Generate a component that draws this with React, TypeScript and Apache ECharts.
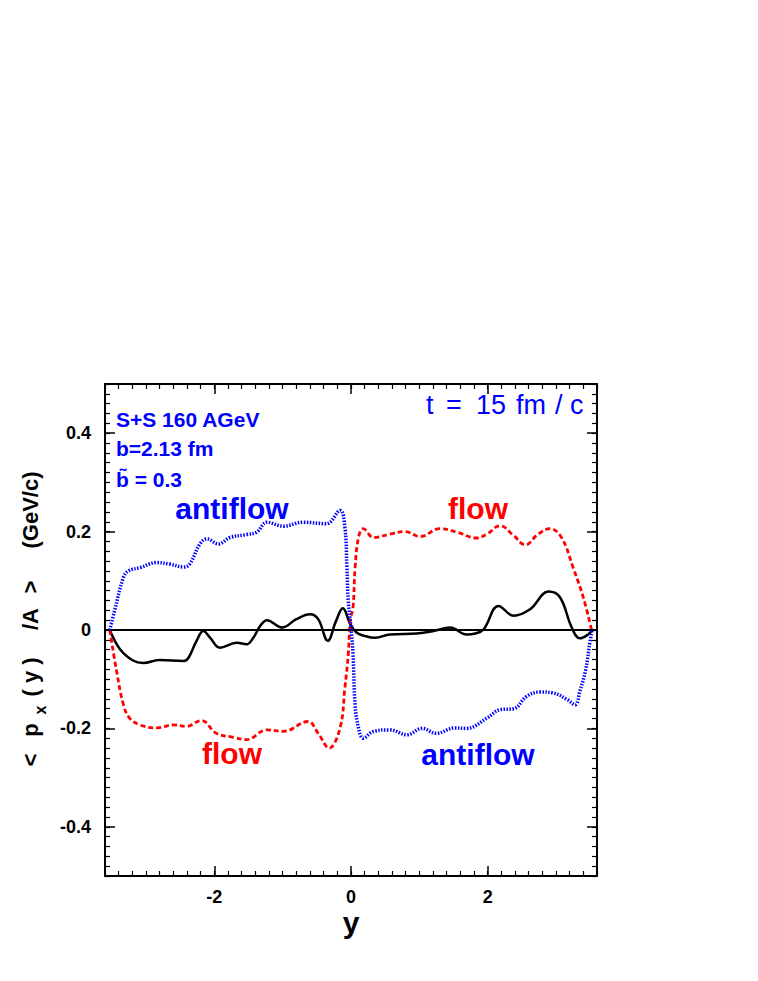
import React, { useEffect, useRef } from "react";
import * as echarts from "echarts";

// Axis ranges
const X_MIN = -3.6;
const X_MAX = 3.6;
const Y_MIN = -0.5;
const Y_MAX = 0.5;

// Black solid curve (net)
const blackX = [-3.53, -3.38, -3.19, -3.04, -2.8, -2.45, -2.38, -2.26, -2.16, -2.06, -1.92, -1.67, -1.53, -1.43, -1.33, -1.23, -1.01, -0.8, -0.6, -0.48, -0.34, -0.22, -0.12, -0.01, 0.08, 0.2, 0.35, 0.57, 0.96, 1.21, 1.45, 1.69, 1.82, 1.94, 2.16, 2.38, 2.62, 2.89, 3.06, 3.23, 3.35, 3.47, 3.53];
const blackY = [0, -0.039, -0.062, -0.067, -0.061, -0.063, -0.057, -0.022, -0.002, -0.016, -0.036, -0.026, -0.029, -0.016, 0.008, 0.02, 0.005, 0.022, 0.032, 0.022, -0.022, 0.018, 0.044, 0.012, -0.005, -0.012, -0.016, -0.009, -0.007, -0.002, 0.005, -0.009, -0.007, 0.001, 0.049, 0.029, 0.042, 0.078, 0.066, 0.005, -0.017, -0.009, 0];

// Red dashed curve (flow)
const redX = [-3.53, -3.43, -3.33, -3.24, -3.09, -2.84, -2.6, -2.41, -2.19, -1.97, -1.72, -1.53, -1.23, -0.99, -0.63, -0.48, -0.32, -0.16, -0.09, -0.04, -0.01, 0.03, 0.06, 0.11, 0.18, 0.33, 0.57, 0.79, 1.01, 1.3, 1.55, 1.84, 1.99, 2.18, 2.38, 2.55, 2.74, 2.91, 3.08, 3.25, 3.4, 3.52];
const redY = [0, -0.084, -0.152, -0.179, -0.193, -0.199, -0.193, -0.196, -0.184, -0.21, -0.218, -0.223, -0.203, -0.206, -0.186, -0.21, -0.24, -0.199, -0.118, -0.05, 0.02, 0.046, 0.127, 0.188, 0.206, 0.188, 0.195, 0.2, 0.19, 0.206, 0.199, 0.187, 0.195, 0.212, 0.192, 0.173, 0.195, 0.206, 0.188, 0.127, 0.066, 0];

// Blue dotted curve (antiflow)
const blueX = [-3.53, -3.46, -3.33, -3.26, -3.08, -2.85, -2.65, -2.45, -2.36, -2.21, -2.11, -1.94, -1.77, -1.53, -1.38, -1.23, -0.99, -0.7, -0.36, -0.16, -0.09, -0.06, -0.04, 0.0, 0.03, 0.06, 0.11, 0.18, 0.33, 0.57, 0.82, 1.04, 1.25, 1.52, 1.69, 1.99, 2.18, 2.38, 2.57, 2.77, 2.96, 3.16, 3.28, 3.35, 3.43, 3.5, 3.53];
const blueY = [0, 0.039, 0.107, 0.12, 0.127, 0.137, 0.134, 0.128, 0.134, 0.175, 0.185, 0.175, 0.188, 0.194, 0.199, 0.219, 0.211, 0.219, 0.216, 0.243, 0.209, 0.127, 0.059, 0.005, -0.05, -0.152, -0.199, -0.22, -0.206, -0.203, -0.213, -0.2, -0.21, -0.199, -0.2, -0.179, -0.162, -0.16, -0.135, -0.126, -0.128, -0.141, -0.152, -0.124, -0.084, -0.022, 0];

const FONT = "'Liberation Sans', Arial, Helvetica, sans-serif";
const BLUE = "#0000ff";
const RED = "#ff0000";

const pairs = (xs: number[], ys: number[]) => xs.map((x, i) => [x, ys[i]]);

const majorX = (pos: string, labels: boolean) => ({
  type: "value",
  position: pos,
  min: X_MIN,
  max: X_MAX,
  splitNumber: 4,
  axisLine: { show: true, onZero: false, lineStyle: { color: "#000", width: 2 } },
  axisTick: { show: true, inside: true, length: 10, lineStyle: { color: "#000", width: 1.5 } },
  axisLabel: {
    show: labels, margin: 12, color: "#000", fontSize: 18, fontWeight: "bold", fontFamily: FONT,
    showMinLabel: false, showMaxLabel: false,
  },
  splitLine: { show: false },
});
const minorX = (pos: string) => ({
  type: "value",
  position: pos,
  min: X_MIN,
  max: X_MAX,
  interval: 0.2,
  axisLine: { show: false, onZero: false },
  axisTick: { show: true, inside: true, length: 5, lineStyle: { color: "#000", width: 1.2 } },
  axisLabel: { show: false },
  splitLine: { show: false },
});
const majorY = (pos: string, labels: boolean) => ({
  type: "value",
  position: pos,
  min: Y_MIN,
  max: Y_MAX,
  splitNumber: 5,
  axisLine: { show: true, onZero: false, lineStyle: { color: "#000", width: 2 } },
  axisTick: { show: true, inside: true, length: 10, lineStyle: { color: "#000", width: 1.5 } },
  axisLabel: {
    show: labels, margin: 14, color: "#000", fontSize: 18, fontWeight: "bold", fontFamily: FONT,
    showMinLabel: false, showMaxLabel: false,
  },
  splitLine: { show: false },
});
const minorY = (pos: string) => ({
  type: "value",
  position: pos,
  min: Y_MIN,
  max: Y_MAX,
  interval: 0.02,
  axisLine: { show: false, onZero: false },
  axisTick: { show: true, inside: true, length: 5, lineStyle: { color: "#000", width: 1.2 } },
  axisLabel: { show: false },
  splitLine: { show: false },
});

const txt = (text: string, x: number, y: number, size: number, color: string, opts: any = {}) => ({
  type: "text",
  x,
  y,
  z: 100,
  style: {
    text,
    fill: color,
    font: `${opts.weight || "bold"} ${size}px ${FONT}`,
    align: opts.align || "center",
    verticalAlign: "middle",
  },
});

export default function App() {
  const ref = useRef<HTMLDivElement>(null);
  useEffect(() => {
    const chart = echarts.init(ref.current!, null, { renderer: "svg" });
    // y-axis title: group rotated 90° CCW, local x runs upward from the bottom of the label
    const yTitle = {
      type: "group",
      x: 30,
      y: 767,
      rotation: Math.PI / 2,
      children: [
        txt("<", 7, 0, 22, "#000"),
        txt("p", 37, 0, 22, "#000"),
        txt("x", 57, 10, 16, "#000"),
        txt("( y )", 90, 0, 22, "#000"),
        txt("/A", 148, 0, 22, "#000"),
        txt(">", 180, 0, 22, "#000"),
        txt("(GeV/c)", 257, 0, 22, "#000"),
      ],
    };
    const option: any = {
      animation: false,
      backgroundColor: "#fff",
      grid: { left: 105, top: 384, right: 161, bottom: 105, containLabel: false },
      xAxis: [majorX("bottom", true), minorX("bottom"), majorX("top", false), minorX("top")],
      yAxis: [majorY("left", true), minorY("left"), majorY("right", false), minorY("right")],
      series: [
        {
          type: "line", xAxisIndex: 0, yAxisIndex: 0, data: pairs(blackX, blackY), smooth: 0.4,
          symbol: "none", lineStyle: { color: "#000", width: 2.5 }, z: 3,
          markLine: {
            silent: true, symbol: "none", label: { show: false },
            lineStyle: { color: "#000", width: 2, type: "solid" },
            data: [{ yAxis: 0 }],
          },
        },
        {
          type: "line", xAxisIndex: 0, yAxisIndex: 0, data: pairs(redX, redY), smooth: 0.4,
          symbol: "none", lineStyle: { color: RED, width: 2.8, type: [5, 3] }, z: 4,
        },
        {
          type: "line", xAxisIndex: 0, yAxisIndex: 0, data: pairs(blueX, blueY), smooth: 0.4,
          symbol: "none", lineStyle: { color: BLUE, width: 3.5, type: [1.5, 1.5] }, z: 5,
        },
      ],
      graphic: [
        txt("S+S 160 AGeV", 116, 419, 21, BLUE, { align: "left" }),
        txt("b=2.13 fm", 116, 448, 21, BLUE, { align: "left" }),
        txt("b\u0303 = 0.3", 116, 479, 21, BLUE, { align: "left" }),
        txt("t", 426, 405, 27, BLUE, { align: "left", weight: "normal" }),
        txt("=", 446, 405, 27, BLUE, { align: "left", weight: "normal" }),
        txt("15", 476, 405, 27, BLUE, { align: "left", weight: "normal" }),
        txt("fm", 516, 405, 27, BLUE, { align: "left", weight: "normal" }),
        txt("/", 555, 405, 27, BLUE, { align: "left", weight: "normal" }),
        txt("c", 570, 405, 27, BLUE, { align: "left", weight: "normal" }),
        txt("antiflow", 232, 508, 30, BLUE),
        txt("flow", 478, 508, 30, RED),
        txt("flow", 232, 753, 30, RED),
        txt("antiflow", 478, 754, 30, BLUE),
        txt("y", 351, 922, 30, "#000"),
        yTitle,
      ],
    };
    chart.setOption(option);
    return () => chart.dispose();
  }, []);
  return <div ref={ref} style={{ position: "absolute", left: 0, top: 0, width: 758, height: 981 }} />;
}
